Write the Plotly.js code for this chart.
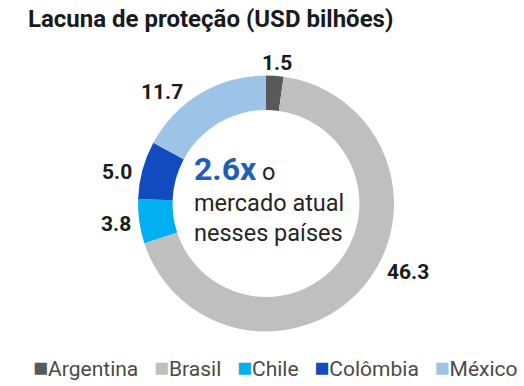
<!DOCTYPE html>
<html><head><meta charset="utf-8">
<script src="https://cdn.plot.ly/plotly-3.0.1.min.js"></script>
<style>html,body{margin:0;padding:0;background:#fff}#chart{width:524px;height:386px}</style>
</head><body><div id="chart"></div>
<script>
const countries = ["Argentina", "Brasil", "Chile", "Colômbia", "México"];
const gapValues = [1.5, 46.3, 3.8, 5.0, 11.7];
const sliceColors = ["#595959", "#bfbfbf", "#00b0f0", "#114bbd", "#9dc3e6"];
const titleText = "Lacuna de proteção (USD bilhões)";
const centerLead = "2.6x";
const centerRest = ["o", "mercado atual", "nesses países"];

const W = 524, H = 386;
const cx = 266, cy = 203.5, R = 128;
const FONT = "Roboto, Arial, sans-serif";
// label placement: radius and pixel nudges per slice (layout only)
const labelRadius = [141, 152, 150, 150, 150];
const labelNudge = [[1, 0], [25, -29], [-1, 0], [-4, 8], [-27, 17]];

const total = gapValues.reduce((a, b) => a + b, 0);
let cum = 0;
const labelAnn = gapValues.map((v, i) => {
  const a = (cum + v / 2) / total * 2 * Math.PI; cum += v;
  const px = cx + labelRadius[i] * Math.sin(a) + labelNudge[i][0];
  const py = cy - labelRadius[i] * Math.cos(a) + labelNudge[i][1];
  return {
    x: px / W, y: 1 - py / H, xref: "paper", yref: "paper",
    text: "<b>" + v.toFixed(1) + "</b>", showarrow: false,
    xanchor: "center", yanchor: "middle",
    font: {family: FONT, size: 21, color: "#1a1a1a"}
  };
});

const legendHtml = countries.map((c, i) =>
  '<span style="color:' + sliceColors[i] + ';font-size:25px">■</span>' + c).join("&nbsp;&nbsp;&nbsp;");

const data = [{
  type: "pie", values: gapValues, labels: countries,
  marker: {colors: sliceColors, line: {width: 0}},
  hole: 0.73, sort: false, direction: "clockwise", rotation: 0,
  textinfo: "none", hoverinfo: "label+value",
  domain: {x: [(cx - R) / W, (cx + R) / W], y: [(H - cy - R) / H, (H - cy + R) / H]},
  showlegend: false
}];

const layout = {
  width: W, height: H, margin: {l: 0, r: 0, t: 0, b: 0},
  paper_bgcolor: "#fff", plot_bgcolor: "#fff",
  font: {family: FONT},
  title: {text: "<b>" + titleText + "</b>", x: 28 / W, xanchor: "left", y: 1 - 19 / H, yanchor: "middle",
          font: {family: FONT, size: 24, color: "#1a1a1a"}},
  annotations: labelAnn.concat([
    {x: 192 / W, y: 1 - 198 / H, xref: "paper", yref: "paper", xanchor: "left", yanchor: "middle",
     align: "left", showarrow: false,
     text: '<b><span style="color:#1f5fb4;font-size:32px">' + centerLead + '</span></b> ' + centerRest[0] +
           '<br>' + centerRest[1] + '<br>' + centerRest[2],
     font: {family: FONT, size: 23.5, color: "#262626"}},
    {x: 31 / W, y: 1 - 367 / H, xref: "paper", yref: "paper", xanchor: "left", yanchor: "middle",
     showarrow: false, text: legendHtml,
     font: {family: FONT, size: 21, color: "#4a4a4a"}}
  ])
};

Plotly.newPlot("chart", data, layout, {displayModeBar: false, staticPlot: true});
</script></body></html>
